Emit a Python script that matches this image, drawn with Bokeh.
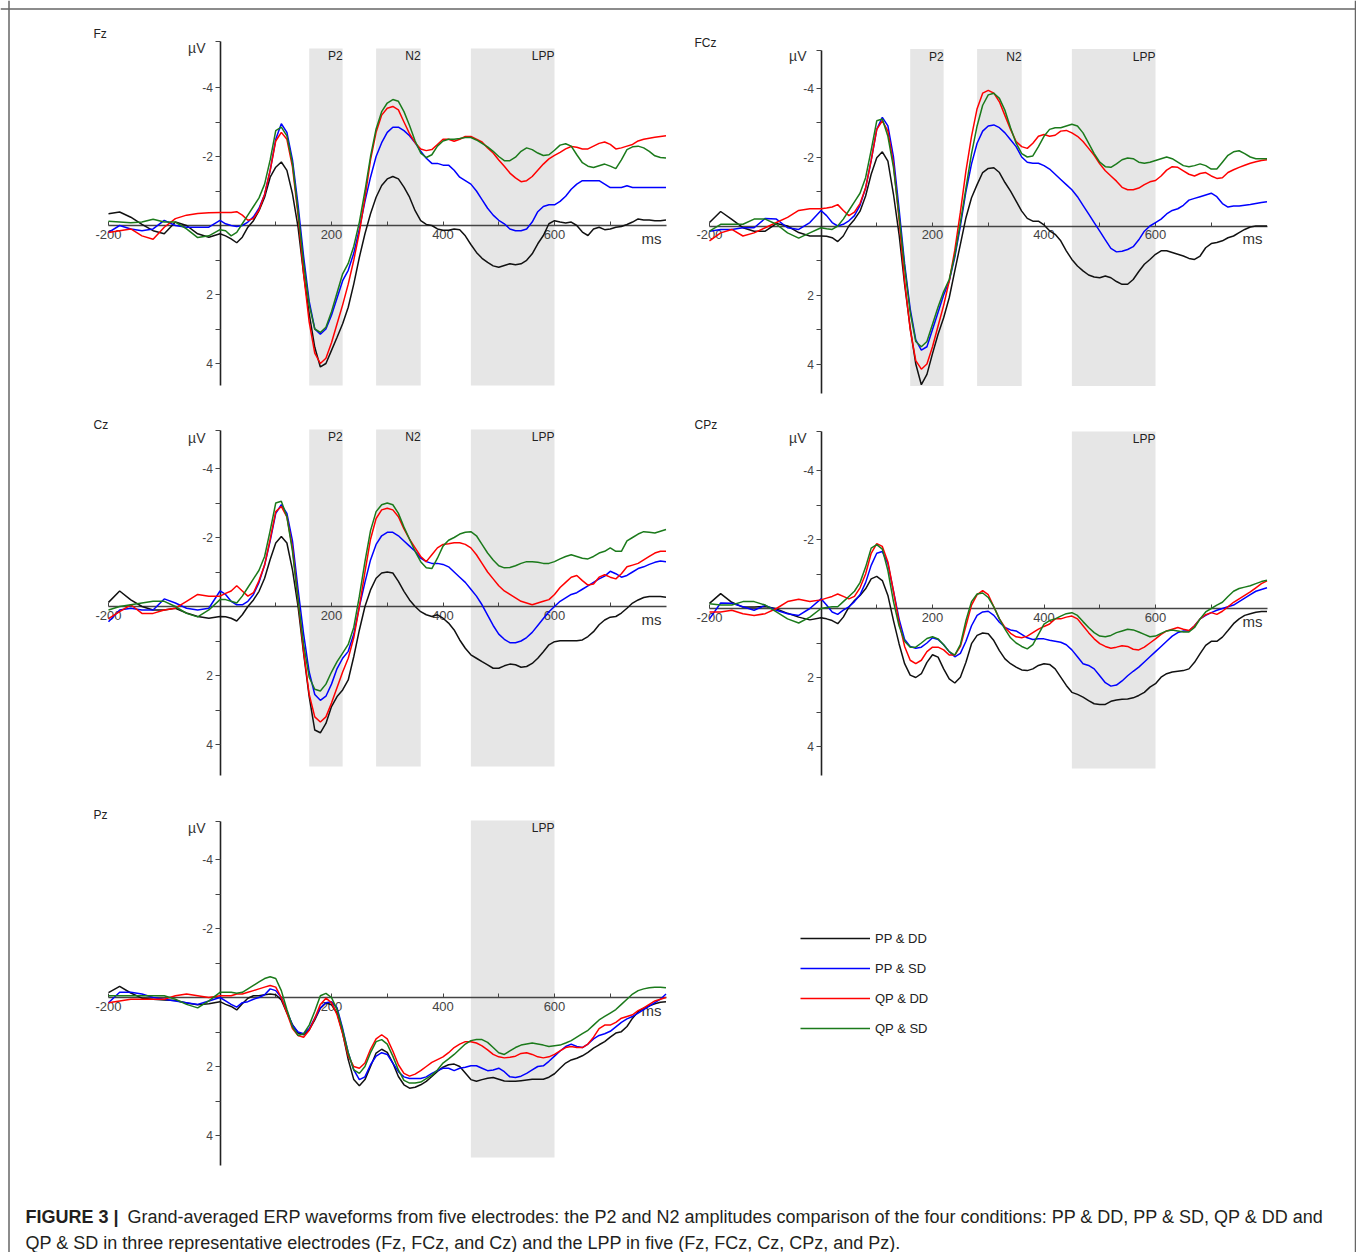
from bokeh.plotting import figure
from bokeh.models import (Range1d, LinearAxis, FixedTicker, CustomJSTickFormatter,
                          Legend, LegendItem, Span)
from bokeh.core.properties import value
from bokeh.embed import file_html
from bokeh.resources import INLINE

# ---------------- data ----------------
TIME_MS = [-200, -180, -160, -140, -120, -100, -80, -60, -40, -20, 0] + list(range(10, 801, 10))

CONDITIONS = ["PP & DD", "PP & SD", "QP & DD", "QP & SD"]

FZ_PP_DD = [
    -0.34, -0.39, -0.24, -0.03, 0.15, 0.24, -0.10, 0.00, 0.24, 0.34, 0.24,
    0.30, 0.39, 0.50, 0.34, 0.05, -0.14, -0.43, -0.82, -1.40, -1.69,
    -1.84, -1.60, -0.92, 0.05, 1.40, 2.56, 3.53, 4.10, 4.00, 3.62,
    3.24, 2.85, 2.37, 1.69, 0.92, 0.24, -0.34, -0.82, -1.16, -1.35,
    -1.42, -1.35, -1.11, -0.82, -0.43, -0.14, -0.03, 0.00, 0.10, 0.14,
    0.14, 0.10, 0.12, 0.30, 0.55, 0.78, 0.95, 1.07, 1.17, 1.21,
    1.16, 1.11, 1.14, 1.11, 1.01, 0.82, 0.53, 0.29, -0.05, -0.14,
    -0.10, -0.07, -0.10, 0.00, 0.19, 0.29, 0.10, 0.05, 0.12, 0.10,
    0.05, 0.03, -0.03, -0.10, -0.19, -0.16, -0.16, -0.14, -0.14, -0.16]
FZ_PP_SD = [
    0.20, 0.00, 0.10, 0.15, 0.10, -0.15, 0.00, 0.05, 0.05, 0.05, -0.15,
    -0.05, 0.00, 0.03, 0.00, -0.10, -0.25, -0.50, -0.90, -1.60, -2.50,
    -2.95, -2.70, -1.90, -0.60, 0.90, 2.20, 3.00, 3.15, 3.00, 2.60,
    2.10, 1.60, 1.30, 0.80, 0.10, -0.70, -1.40, -2.00, -2.40, -2.70,
    -2.85, -2.85, -2.75, -2.60, -2.40, -2.15, -1.95, -1.80, -1.80, -1.75,
    -1.75, -1.60, -1.40, -1.30, -1.20, -1.00, -0.75, -0.50, -0.30, -0.15,
    -0.05, 0.10, 0.15, 0.15, 0.10, -0.10, -0.40, -0.55, -0.60, -0.60,
    -0.70, -0.85, -1.05, -1.20, -1.30, -1.30, -1.30, -1.30, -1.20, -1.10,
    -1.10, -1.10, -1.15, -1.10, -1.10, -1.10, -1.10, -1.10, -1.10, -1.10]
FZ_QP_DD = [
    0.20, 0.15, 0.10, 0.30, 0.40, 0.05, -0.20, -0.30, -0.35, -0.37, -0.38,
    -0.38, -0.38, -0.40, -0.30, -0.15, -0.20, -0.45, -0.90, -1.60, -2.45,
    -2.70, -2.50, -1.70, -0.30, 1.40, 2.80, 3.70, 4.00, 3.85, 3.40,
    2.85, 2.30, 1.70, 1.00, 0.20, -0.80, -1.90, -2.70, -3.20, -3.40,
    -3.45, -3.35, -3.00, -2.66, -2.40, -2.22, -2.17, -2.20, -2.35, -2.50,
    -2.50, -2.44, -2.50, -2.58, -2.58, -2.50, -2.42, -2.25, -2.10, -1.90,
    -1.72, -1.52, -1.38, -1.27, -1.30, -1.42, -1.60, -1.78, -1.93, -2.03,
    -2.12, -2.22, -2.29, -2.27, -2.22, -2.22, -2.30, -2.38, -2.42, -2.35,
    -2.22, -2.25, -2.30, -2.35, -2.45, -2.50, -2.53, -2.56, -2.58, -2.60]
FZ_QP_SD = [
    -0.12, -0.10, -0.08, -0.10, -0.18, -0.10, -0.10, 0.10, 0.35, 0.30, 0.12,
    0.15, 0.30, 0.20, -0.05, -0.30, -0.55, -0.80, -1.20, -1.90, -2.75,
    -2.85, -2.60, -1.80, -0.40, 1.10, 2.30, 3.00, 3.10, 2.95, 2.50,
    1.95, 1.40, 1.10, 0.60, -0.10, -1.00, -2.00, -2.80, -3.30, -3.55,
    -3.65, -3.60, -3.30, -2.90, -2.45, -2.10, -1.97, -2.05, -2.30, -2.45,
    -2.50, -2.50, -2.52, -2.55, -2.55, -2.48, -2.38, -2.28, -2.15, -2.00,
    -1.88, -1.88, -1.98, -2.15, -2.25, -2.20, -2.10, -2.03, -2.05, -2.18,
    -2.33, -2.37, -2.30, -2.05, -1.82, -1.72, -1.68, -1.73, -1.78, -1.72,
    -1.65, -1.90, -2.20, -2.28, -2.30, -2.25, -2.15, -2.02, -1.97, -1.96]

FCZ_PP_DD = [
    -0.10, -0.42, -0.19, 0.05, 0.15, 0.15, -0.07, 0.00, 0.19, 0.29, 0.29,
    0.30, 0.34, 0.45, 0.29, 0.00, -0.19, -0.43, -0.87, -1.50, -1.98,
    -2.15, -1.88, -0.92, 0.24, 1.69, 2.95, 4.00, 4.60, 4.30, 3.70,
    3.14, 2.66, 2.08, 1.30, 0.53, -0.24, -0.82, -1.20, -1.55, -1.67,
    -1.69, -1.55, -1.26, -1.01, -0.72, -0.43, -0.22, -0.14, -0.14, -0.03,
    0.14, 0.24, 0.43, 0.72, 0.97, 1.16, 1.30, 1.42, 1.48, 1.50,
    1.45, 1.50, 1.61, 1.69, 1.69, 1.55, 1.32, 1.11, 0.97, 0.82,
    0.72, 0.72, 0.77, 0.82, 0.87, 0.94, 0.97, 0.87, 0.63, 0.51,
    0.48, 0.43, 0.34, 0.29, 0.19, 0.10, 0.03, 0.00, 0.00, 0.00]
FCZ_PP_SD = [
    0.15, 0.10, 0.10, 0.05, 0.05, -0.22, -0.20, 0.05, 0.10, -0.10, -0.45,
    -0.30, -0.10, 0.00, -0.05, -0.15, -0.30, -0.60, -1.10, -1.90, -2.80,
    -3.15, -2.90, -2.00, -0.50, 1.10, 2.40, 3.30, 3.60, 3.50, 3.00,
    2.50, 2.00, 1.60, 0.90, 0.00, -1.00, -1.80, -2.40, -2.75, -2.90,
    -2.93, -2.85, -2.70, -2.50, -2.30, -2.00, -1.85, -1.82, -1.82, -1.75,
    -1.65, -1.50, -1.35, -1.20, -1.05, -0.85, -0.60, -0.35, -0.10, 0.15,
    0.40, 0.65, 0.75, 0.73, 0.68, 0.60, 0.40, 0.15, 0.00, -0.10,
    -0.20, -0.35, -0.45, -0.50, -0.60, -0.75, -0.80, -0.85, -0.90, -0.95,
    -0.85, -0.65, -0.55, -0.58, -0.58, -0.60, -0.62, -0.65, -0.68, -0.70]
FCZ_QP_DD = [
    0.43, 0.20, 0.10, 0.29, 0.20, 0.05, -0.10, -0.25, -0.45, -0.50, -0.50,
    -0.52, -0.55, -0.62, -0.45, -0.30, -0.40, -0.65, -1.10, -1.90, -2.80,
    -3.05, -2.75, -1.80, -0.20, 1.60, 3.00, 3.90, 4.15, 4.00, 3.50,
    2.90, 2.30, 1.60, 0.70, -0.40, -1.60, -2.60, -3.40, -3.85, -3.93,
    -3.85, -3.60, -3.20, -2.80, -2.45, -2.30, -2.25, -2.40, -2.60, -2.65,
    -2.60, -2.63, -2.75, -2.77, -2.70, -2.60, -2.45, -2.25, -2.05, -1.80,
    -1.60, -1.45, -1.30, -1.12, -1.05, -1.05, -1.10, -1.20, -1.28, -1.32,
    -1.45, -1.62, -1.72, -1.70, -1.60, -1.50, -1.45, -1.52, -1.55, -1.45,
    -1.38, -1.40, -1.55, -1.63, -1.70, -1.76, -1.82, -1.86, -1.90, -1.92]
FCZ_QP_SD = [
    0.15, -0.05, -0.05, -0.05, -0.20, -0.20, -0.05, 0.20, 0.35, 0.20, 0.05,
    0.08, 0.10, 0.00, -0.20, -0.45, -0.70, -0.95, -1.40, -2.20, -3.05,
    -3.10, -2.60, -1.70, -0.30, 1.20, 2.50, 3.35, 3.50, 3.35, 2.85,
    2.35, 1.90, 1.55, 0.85, -0.10, -1.10, -2.10, -2.90, -3.50, -3.80,
    -3.85, -3.70, -3.35, -2.85, -2.40, -2.10, -2.00, -2.03, -2.30, -2.60,
    -2.80, -2.85, -2.85, -2.90, -2.95, -2.90, -2.70, -2.40, -2.10, -1.85,
    -1.72, -1.70, -1.80, -1.92, -1.97, -1.95, -1.85, -1.82, -1.85, -1.90,
    -1.95, -2.00, -1.95, -1.85, -1.75, -1.72, -1.75, -1.80, -1.75, -1.65,
    -1.65, -1.85, -2.05, -2.15, -2.18, -2.10, -2.00, -1.95, -1.95, -1.95]

CZ_PP_DD = [
    -0.12, -0.45, -0.19, 0.00, 0.10, 0.10, 0.05, 0.19, 0.29, 0.34, 0.29,
    0.30, 0.34, 0.42, 0.24, 0.00, -0.19, -0.44, -0.82, -1.36, -1.84,
    -2.03, -1.84, -1.06, 0.00, 1.36, 2.61, 3.58, 3.66, 3.39, 2.90,
    2.61, 2.42, 2.13, 1.45, 0.68, 0.00, -0.48, -0.82, -0.97, -1.00,
    -0.97, -0.73, -0.44, -0.19, 0.00, 0.15, 0.24, 0.29, 0.24, 0.34,
    0.48, 0.68, 0.97, 1.21, 1.40, 1.50, 1.60, 1.69, 1.79, 1.79,
    1.72, 1.67, 1.69, 1.76, 1.74, 1.65, 1.50, 1.31, 1.11, 1.02,
    0.99, 0.99, 0.99, 0.99, 0.97, 0.87, 0.73, 0.53, 0.39, 0.31,
    0.29, 0.19, 0.05, -0.10, -0.19, -0.26, -0.29, -0.29, -0.29, -0.27]
CZ_PP_SD = [
    0.44, 0.10, 0.05, 0.10, 0.10, -0.22, -0.10, 0.05, 0.10, 0.05, -0.45,
    -0.35, -0.15, -0.05, -0.05, -0.15, -0.35, -0.70, -1.20, -1.90, -2.70,
    -2.95, -2.70, -1.90, -0.50, 0.80, 1.90, 2.55, 2.72, 2.60, 2.25,
    1.80, 1.50, 1.30, 0.80, 0.00, -0.70, -1.35, -1.80, -2.05, -2.15,
    -2.15, -2.05, -1.90, -1.75, -1.60, -1.40, -1.30, -1.25, -1.25, -1.22,
    -1.15, -1.00, -0.85, -0.70, -0.50, -0.30, -0.05, 0.25, 0.55, 0.80,
    0.95, 1.05, 1.05, 1.00, 0.90, 0.75, 0.55, 0.35, 0.15, 0.00,
    -0.15, -0.25, -0.35, -0.40, -0.50, -0.60, -0.70, -0.80, -0.88, -1.02,
    -0.95, -0.85, -0.90, -1.00, -1.10, -1.15, -1.22, -1.28, -1.32, -1.30]
CZ_QP_DD = [
    0.35, 0.15, -0.05, 0.20, 0.20, 0.10, 0.05, -0.15, -0.35, -0.30, -0.30,
    -0.38, -0.45, -0.60, -0.45, -0.30, -0.40, -0.75, -1.20, -1.95, -2.75,
    -2.90, -2.60, -1.70, -0.20, 1.30, 2.55, 3.20, 3.35, 3.20, 2.80,
    2.35, 1.90, 1.50, 0.90, 0.00, -1.00, -1.95, -2.55, -2.80, -2.85,
    -2.80, -2.60, -2.25, -1.95, -1.70, -1.45, -1.30, -1.50, -1.70, -1.80,
    -1.82, -1.85, -1.85, -1.80, -1.70, -1.50, -1.25, -1.00, -0.80, -0.60,
    -0.45, -0.35, -0.25, -0.15, -0.10, -0.05, -0.10, -0.15, -0.20, -0.35,
    -0.55, -0.70, -0.85, -0.90, -0.75, -0.62, -0.65, -0.85, -0.92, -0.85,
    -0.80, -0.95, -1.15, -1.20, -1.25, -1.35, -1.45, -1.55, -1.60, -1.60]
CZ_QP_SD = [
    0.10, 0.00, -0.05, -0.10, -0.15, -0.15, 0.00, 0.20, 0.30, 0.10, -0.20,
    -0.20, -0.15, -0.10, -0.30, -0.55, -0.80, -1.05, -1.45, -2.20, -3.00,
    -3.05, -2.60, -1.60, -0.20, 1.10, 2.05, 2.40, 2.45, 2.25, 1.90,
    1.60, 1.35, 1.10, 0.60, -0.30, -1.30, -2.20, -2.75, -2.95, -3.00,
    -2.95, -2.70, -2.30, -1.95, -1.60, -1.30, -1.12, -1.10, -1.40, -1.75,
    -1.92, -2.00, -2.10, -2.15, -2.17, -2.05, -1.80, -1.55, -1.35, -1.18,
    -1.12, -1.13, -1.18, -1.25, -1.30, -1.30, -1.28, -1.25, -1.25, -1.30,
    -1.38, -1.45, -1.50, -1.45, -1.40, -1.38, -1.45, -1.55, -1.60, -1.70,
    -1.60, -1.60, -1.90, -2.00, -2.10, -2.17, -2.15, -2.13, -2.18, -2.23]

CPZ_PP_DD = [
    -0.15, -0.43, -0.18, -0.04, -0.04, -0.06, 0.01, 0.14, 0.25, 0.33, 0.27,
    0.30, 0.35, 0.44, 0.25, -0.04, -0.23, -0.38, -0.57, -0.86, -0.93,
    -0.81, -0.38, 0.35, 1.02, 1.60, 1.93, 2.00, 1.89, 1.56, 1.34,
    1.41, 1.75, 2.04, 2.16, 1.99, 1.56, 1.02, 0.78, 0.71, 0.73,
    0.93, 1.22, 1.46, 1.60, 1.70, 1.78, 1.80, 1.75, 1.65, 1.60,
    1.62, 1.75, 1.99, 2.23, 2.43, 2.49, 2.57, 2.67, 2.76, 2.78,
    2.78, 2.69, 2.65, 2.63, 2.62, 2.59, 2.52, 2.43, 2.28, 2.18,
    1.99, 1.89, 1.84, 1.82, 1.80, 1.75, 1.56, 1.31, 1.07, 0.95,
    0.95, 0.83, 0.64, 0.44, 0.30, 0.20, 0.15, 0.11, 0.09, 0.09]
CPZ_PP_SD = [
    0.30, -0.16, -0.15, -0.05, 0.05, -0.09, 0.05, 0.15, 0.20, 0.00, -0.28,
    -0.10, 0.10, 0.17, 0.05, -0.05, -0.20, -0.40, -0.75, -1.25, -1.60,
    -1.65, -1.30, -0.50, 0.30, 0.90, 1.10, 1.15, 1.12, 1.00, 0.85,
    0.90, 1.05, 1.25, 1.40, 1.30, 0.95, 0.50, 0.20, 0.10, 0.08,
    0.20, 0.40, 0.55, 0.62, 0.65, 0.75, 0.85, 0.90, 0.88, 0.88,
    0.92, 0.95, 0.98, 1.05, 1.20, 1.40, 1.60, 1.65, 1.75, 1.95,
    2.15, 2.25, 2.22, 2.10, 1.95, 1.82, 1.70, 1.55, 1.40, 1.25,
    1.10, 0.95, 0.80, 0.70, 0.65, 0.65, 0.50, 0.30, 0.20, 0.12,
    0.05, 0.00, -0.05, -0.10, -0.20, -0.30, -0.40, -0.50, -0.55, -0.60]
CPZ_QP_DD = [
    0.10, 0.10, 0.05, 0.15, 0.20, 0.15, 0.00, -0.20, -0.27, -0.20, -0.25,
    -0.30, -0.35, -0.42, -0.35, -0.28, -0.35, -0.60, -1.00, -1.60, -1.88,
    -1.80, -1.35, -0.50, 0.40, 1.10, 1.50, 1.60, 1.50, 1.25, 1.12,
    1.12, 1.20, 1.35, 1.35, 1.10, 0.50, -0.10, -0.40, -0.52, -0.40,
    -0.05, 0.30, 0.55, 0.72, 0.82, 0.85, 0.80, 0.70, 0.60, 0.52,
    0.45, 0.30, 0.30, 0.25, 0.22, 0.30, 0.50, 0.70, 0.88, 1.02,
    1.10, 1.15, 1.12, 1.08, 1.10, 1.18, 1.20, 1.12, 1.00, 0.88,
    0.75, 0.65, 0.60, 0.55, 0.60, 0.64, 0.50, 0.30, 0.18, 0.12,
    0.17, 0.08, -0.05, -0.18, -0.28, -0.38, -0.48, -0.60, -0.72, -0.80]
CPZ_QP_SD = [
    -0.14, -0.10, -0.10, -0.20, -0.20, -0.10, 0.10, 0.30, 0.42, 0.25, 0.00,
    -0.03, -0.05, -0.05, -0.20, -0.35, -0.50, -0.75, -1.20, -1.75, -1.85,
    -1.72, -1.10, -0.20, 0.50, 0.95, 1.12, 1.12, 1.00, 0.87, 0.82,
    0.88, 1.05, 1.25, 1.35, 1.05, 0.35, -0.20, -0.42, -0.45, -0.32,
    -0.05, 0.30, 0.60, 0.85, 1.00, 1.10, 1.17, 1.05, 0.75, 0.45,
    0.35, 0.30, 0.22, 0.15, 0.12, 0.20, 0.38, 0.55, 0.70, 0.80,
    0.82, 0.78, 0.70, 0.65, 0.60, 0.62, 0.68, 0.75, 0.82, 0.80,
    0.72, 0.65, 0.62, 0.65, 0.68, 0.68, 0.55, 0.30, 0.10, 0.00,
    -0.10, -0.18, -0.35, -0.50, -0.58, -0.62, -0.66, -0.72, -0.78, -0.82]

PZ_PP_DD = [
    -0.14, -0.32, -0.13, 0.02, 0.05, 0.07, 0.09, 0.16, 0.21, 0.18, 0.12,
    0.20, 0.26, 0.36, 0.18, 0.02, -0.05, -0.05, -0.08, -0.10, -0.08,
    0.07, 0.45, 0.79, 1.03, 1.08, 0.94, 0.65, 0.31, 0.16, 0.21,
    0.45, 1.03, 1.80, 2.38, 2.56, 2.38, 2.00, 1.61, 1.50, 1.59,
    1.90, 2.29, 2.53, 2.63, 2.60, 2.53, 2.43, 2.29, 2.14, 2.02,
    1.95, 1.93, 2.00, 2.19, 2.38, 2.43, 2.38, 2.34, 2.32, 2.37,
    2.42, 2.43, 2.43, 2.41, 2.39, 2.37, 2.37, 2.37, 2.31, 2.21,
    2.05, 1.90, 1.81, 1.76, 1.69, 1.59, 1.47, 1.37, 1.28, 1.15,
    1.03, 0.99, 0.84, 0.60, 0.41, 0.31, 0.24, 0.18, 0.14, 0.12]
PZ_PP_SD = [
    0.15, -0.15, -0.15, -0.10, 0.00, 0.05, 0.10, 0.15, 0.20, 0.10, 0.00,
    0.10, 0.20, 0.28, 0.15, 0.12, 0.05, 0.00, -0.08, -0.25, -0.20,
    0.00, 0.40, 0.80, 1.00, 1.05, 0.90, 0.60, 0.30, 0.15, 0.12,
    0.30, 0.90, 1.60, 2.10, 2.38, 2.30, 1.95, 1.70, 1.60, 1.65,
    1.90, 2.15, 2.30, 2.35, 2.35, 2.35, 2.30, 2.20, 2.12, 2.05,
    2.05, 2.12, 2.05, 2.02, 1.98, 1.98, 2.05, 2.12, 2.10, 2.05,
    2.15, 2.30, 2.32, 2.28, 2.20, 2.10, 2.00, 1.98, 1.85, 1.70,
    1.55, 1.42, 1.35, 1.42, 1.45, 1.35, 1.20, 1.10, 1.05, 0.98,
    0.85, 0.72, 0.62, 0.55, 0.45, 0.35, 0.25, 0.15, 0.05, -0.10]
PZ_QP_DD = [
    0.15, 0.10, 0.05, 0.05, 0.05, 0.05, -0.05, -0.10, -0.05, 0.00, -0.05,
    -0.05, -0.05, -0.10, -0.10, -0.15, -0.20, -0.25, -0.30, -0.35, -0.30,
    0.00, 0.45, 0.90, 1.10, 1.15, 0.95, 0.60, 0.20, 0.02, 0.15,
    0.50, 1.05, 1.70, 2.00, 2.05, 1.90, 1.50, 1.20, 1.08, 1.20,
    1.55, 1.95, 2.20, 2.28, 2.22, 2.12, 2.00, 1.88, 1.80, 1.72,
    1.60, 1.45, 1.35, 1.28, 1.28, 1.32, 1.40, 1.52, 1.65, 1.72,
    1.75, 1.73, 1.70, 1.62, 1.60, 1.65, 1.72, 1.75, 1.72, 1.65,
    1.55, 1.45, 1.42, 1.45, 1.45, 1.35, 1.15, 0.90, 0.80, 0.80,
    0.72, 0.60, 0.55, 0.50, 0.38, 0.30, 0.20, 0.10, 0.05, 0.00]
PZ_QP_SD = [
    -0.05, -0.05, -0.05, -0.05, -0.05, -0.05, 0.05, 0.20, 0.30, 0.10, -0.15,
    -0.15, -0.15, -0.12, -0.15, -0.25, -0.35, -0.45, -0.55, -0.60, -0.55,
    -0.20, 0.35, 0.85, 1.10, 1.05, 0.80, 0.40, -0.05, -0.12, 0.00,
    0.35, 0.95, 1.60, 2.10, 2.20, 2.00, 1.60, 1.28, 1.22, 1.35,
    1.70, 2.10, 2.40, 2.48, 2.48, 2.45, 2.35, 2.25, 2.10, 1.90,
    1.78, 1.65, 1.50, 1.35, 1.25, 1.22, 1.22, 1.30, 1.45, 1.60,
    1.65, 1.55, 1.45, 1.38, 1.35, 1.32, 1.35, 1.38, 1.42, 1.40,
    1.38, 1.32, 1.25, 1.15, 1.05, 0.95, 0.80, 0.65, 0.55, 0.45,
    0.35, 0.20, 0.05, -0.10, -0.20, -0.25, -0.28, -0.30, -0.30, -0.28]

BAND_NAMES = ["P2", "N2", "LPP"]
BAND_START_MS = [160, 280, 450]
BAND_END_MS = [220, 360, 600]

X_TICKS = [-200, 200, 400, 600]
X_MINOR = [100, 300, 500, 700]
Y_TICKS = [-4, -2, 2, 4]
Y_MINOR = [-3, -1, 1, 3]

CAPTION_BOLD = "FIGURE 3 |"
CAPTION_1 = ("Grand-averaged ERP waveforms from five electrodes: the P2 and N2 amplitudes "
             "comparison of the four conditions: PP & DD, PP & SD, QP & DD and")
CAPTION_2 = ("QP & SD in three representative electrodes (Fz, FCz, and Cz) and the LPP in "
             "five (Fz, FCz, Cz, CPz, and Pz).")

PANEL_DATA = {
    "Fz": [FZ_PP_DD, FZ_PP_SD, FZ_QP_DD, FZ_QP_SD],
    "FCz": [FCZ_PP_DD, FCZ_PP_SD, FCZ_QP_DD, FCZ_QP_SD],
    "Cz": [CZ_PP_DD, CZ_PP_SD, CZ_QP_DD, CZ_QP_SD],
    "CPz": [CPZ_PP_DD, CPZ_PP_SD, CPZ_QP_DD, CPZ_QP_SD],
    "Pz": [PZ_PP_DD, PZ_PP_SD, PZ_QP_DD, PZ_QP_SD],
}
for _k, _v in PANEL_DATA.items():
    for _s in _v:
        if len(_s) != len(TIME_MS):
            raise ValueError(f"{_k}: length {len(_s)} != {len(TIME_MS)}")

# ---------------- layout / style ----------------
COLORS = ["#111111", "#0000ff", "#ff0000", "#1b7a1b"]
FONT = value("Liberation Sans")
W, H = 1356, 1252
PX_MS = 0.5575
PX_UV = 34.5
BAND_TOP, BAND_BOTTOM = -5.13, 4.64

# pixel layout of each panel: zero point, axis extent, title/unit label positions
PANELS = [
    dict(name="Fz", x0=219.5, y0=225.0, ylo=-5.34, yhi=4.64, bands=[0, 1, 2],
         title=(93, 33), unit=(205, 47)),
    dict(name="FCz", x0=820.5, y0=225.5, ylo=-5.09, yhi=4.86, bands=[0, 1, 2],
         title=(694, 42), unit=(806, 55)),
    dict(name="Cz", x0=219.5, y0=606.0, ylo=-5.10, yhi=4.90, bands=[0, 1, 2],
         title=(93, 424), unit=(205, 437)),
    dict(name="CPz", x0=820.5, y0=608.0, ylo=-5.14, yhi=4.84, bands=[2],
         title=(694, 424), unit=(806, 437)),
    dict(name="Pz", x0=219.5, y0=997.0, ylo=-5.10, yhi=4.87, bands=[2],
         title=(93, 814), unit=(205, 827)),
]

p = figure(width=W, height=H, x_range=Range1d(0, W), y_range=Range1d(H, 0),
           x_axis_type=None, y_axis_type=None, toolbar_location=None,
           output_backend="svg", min_border=0, outline_line_color=None,
           background_fill_color="white", border_fill_color="white")

fmt = CustomJSTickFormatter(code="return String(tick)")
legend_renderers = None

for pan in PANELS:
    n = pan["name"]
    xr, yr = n + "_x", n + "_y"
    p.extra_x_ranges[xr] = Range1d(-pan["x0"] / PX_MS, (W - pan["x0"]) / PX_MS)
    p.extra_y_ranges[yr] = Range1d((H - pan["y0"]) / PX_UV, -pan["y0"] / PX_UV)

    # shaded analysis windows
    bi = pan["bands"]
    p.quad(left=[BAND_START_MS[i] for i in bi], right=[BAND_END_MS[i] for i in bi],
           top=[BAND_TOP] * len(bi), bottom=[BAND_BOTTOM] * len(bi),
           x_range_name=xr, y_range_name=yr, fill_color="#e6e6e6", line_color=None,
           level="image")
    p.text(x=[BAND_END_MS[i] for i in bi], y=[-4.9] * len(bi), text=[BAND_NAMES[i] for i in bi],
           x_range_name=xr, y_range_name=yr, text_font=FONT, text_font_size="12px",
           text_align="right", text_baseline="middle", text_color="#222222")

    # axes crossing at zero
    xa = LinearAxis(x_range_name=xr, y_range_name=yr, fixed_location=0, bounds=(-200, 800),
                    ticker=FixedTicker(ticks=X_TICKS, minor_ticks=X_MINOR), formatter=fmt,
                    major_tick_in=4, major_tick_out=0, minor_tick_in=4, minor_tick_out=0,
                    axis_line_color="#444444", axis_line_width=1.6,
                    major_tick_line_color="#444444", minor_tick_line_color="#444444",
                    major_label_standoff=4, major_label_text_font="Liberation Sans",
                    major_label_text_font_size="13px", major_label_text_color="#444444")
    xa.level = "underlay"
    p.add_layout(xa, "below")
    ya = LinearAxis(x_range_name=xr, y_range_name=yr, fixed_location=0,
                    bounds=(pan["ylo"], pan["yhi"]),
                    ticker=FixedTicker(ticks=Y_TICKS, minor_ticks=Y_MINOR + [pan["ylo"]]),
                    formatter=fmt,
                    major_tick_in=0, major_tick_out=5, minor_tick_in=0, minor_tick_out=5,
                    axis_line_color="#222222", axis_line_width=1.6,
                    major_tick_line_color="#444444", minor_tick_line_color="#444444",
                    major_label_standoff=2, major_label_text_font="Liberation Sans",
                    major_label_text_font_size="12px", major_label_text_color="#444444")
    ya.level = "underlay"
    p.add_layout(ya, "left")

    p.text(x=[774], y=[0.37], text=["ms"], x_range_name=xr, y_range_name=yr,
           text_font=FONT, text_font_size="15px", text_align="center",
           text_baseline="middle", text_color="#333333")

    rs = []
    for vals, col in zip(PANEL_DATA[n], COLORS):
        rs.append(p.line(TIME_MS, vals, x_range_name=xr, y_range_name=yr,
                         line_color=col, line_width=1.5))
    if legend_renderers is None:
        legend_renderers = rs

    # panel title and unit label (pixel coordinates)
    p.text(x=[pan["title"][0]], y=[pan["title"][1]], text=[n], text_font=FONT,
           text_font_size="12px", text_align="left", text_baseline="middle",
           text_color="#222222")
    p.text(x=[pan["unit"][0]], y=[pan["unit"][1]], text=["µV"], text_font=FONT,
           text_font_size="14px", text_align="right", text_baseline="middle",
           text_color="#333333")

legend = Legend(items=[LegendItem(label=c, renderers=[r]) for c, r in zip(CONDITIONS, legend_renderers)],
                location=(800, 214), padding=0, margin=0, spacing=10,
                glyph_width=70, glyph_height=20, label_height=20, label_standoff=5,
                label_text_font="Liberation Sans", label_text_font_size="13px",
                label_text_color="#222222", border_line_color=None,
                background_fill_alpha=0)
p.add_layout(legend)

# caption
p.text(x=[25], y=[1216], text=[CAPTION_BOLD], text_font=FONT, text_font_size="18px",
       text_font_style="bold", text_align="left", text_baseline="middle", text_color="#231f20")
p.text(x=[127], y=[1216], text=[CAPTION_1], text_font=FONT, text_font_size="18px",
       text_align="left", text_baseline="middle", text_color="#231f20")
p.text(x=[25], y=[1242], text=[CAPTION_2], text_font=FONT, text_font_size="18px",
       text_align="left", text_baseline="middle", text_color="#231f20")

# figure frame (left, top, right)
for loc, dim in [(8.5, "height"), (1355, "height"), (8.5, "width")]:
    p.add_layout(Span(location=loc, dimension=dim, line_color="#666666", line_width=1.5))

open("out.html", "w").write(file_html(p, INLINE))
